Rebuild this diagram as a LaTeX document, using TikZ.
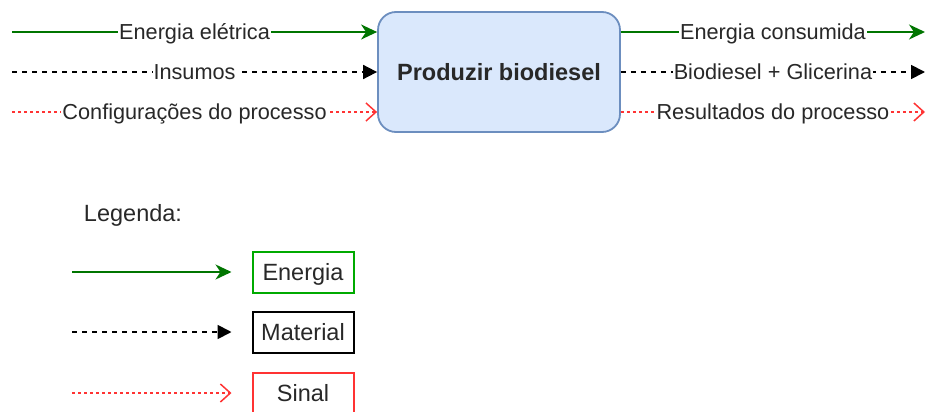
\documentclass[tikz,border=0pt]{standalone}
\usepackage{fontspec}
\setmainfont{Liberation Sans}
\usetikzlibrary{arrows.meta}
\definecolor{verde}{RGB}{0,117,0}
\definecolor{verdecaixa}{RGB}{0,170,0}
\definecolor{vermelho}{RGB}{255,51,51}
\definecolor{azulfundo}{RGB}{218,232,252}
\definecolor{azulborda}{RGB}{108,142,191}
\definecolor{texto}{RGB}{40,40,40}
\tikzset{
  energia/.style={draw=verde, line width=2pt, -{Stealth[length=16pt,width=15pt,inset=5pt]}},
  material/.style={draw=black, line width=1.8pt, dash pattern=on 5pt off 5pt, -{Triangle[length=14pt,width=14pt]}},
  sinal/.style={draw=vermelho, line width=1.2pt, dash pattern=on 3pt off 3pt, -{Straight Barb[length=10pt,width=18pt,line width=1.5pt]}},
  rotulo/.style={fill=white, inner xsep=1pt, inner ysep=0pt, text height=15.6pt, text depth=0pt, text=texto, font=\fontsize{21.7}{24}\selectfont},
  processo/.style={draw=azulborda, fill=azulfundo, line width=1.8pt, rounded corners=18pt, minimum width=242, minimum height=120, text height=16.9pt, text depth=0pt, text=texto, font=\fontsize{23.5}{26}\selectfont\bfseries},
  caixa/.style={line width=2pt, minimum width=101, minimum height=41, text height=16.9pt, text depth=0pt, text=texto, font=\fontsize{23.5}{26}\selectfont}
}

\begin{document}
\begin{tikzpicture}[x=1pt, y=-1pt]
\useasboundingbox (0,0) rectangle (929,412);
% processo
\node[processo] (proc) at (499,72) {Produzir biodiesel};
% entradas
\coordinate (in1) at (12,32);
\coordinate (in2) at (12,72);
\coordinate (in3) at (12,112);
\draw[energia] (in1) -- (proc.west |- in1) node[rotulo, midway] {Energia elétrica};
\draw[material] (in2) -- (proc.west |- in2) node[rotulo, midway] {Insumos};
\draw[sinal] (in3) -- (proc.west |- in3) node[rotulo, midway] {Configurações do processo};
% saidas
\coordinate (out1) at (925,32);
\coordinate (out2) at (925,72);
\coordinate (out3) at (925,112);
\draw[energia] (proc.east |- out1) -- (out1) node[rotulo, midway] {Energia consumida};
\draw[material] (proc.east |- out2) -- (out2) node[rotulo, midway] {Biodiesel + Glicerina};
\draw[sinal] (proc.east |- out3) -- (out3) node[rotulo, midway] {Resultados do processo};
% legenda
\node[text=texto, text height=16.9pt, text depth=0pt, font=\fontsize{23.5}{26}\selectfont] (leg) at (133,213) {Legenda:};
\node[caixa, draw=verdecaixa] (cEnergia) at (303,272) {Energia};
\node[caixa, draw=black] (cMaterial) at (303,332) {Material};
\node[caixa, draw=vermelho] (cSinal) at (303,393) {Sinal};
\coordinate (l1) at (72,272);
\coordinate (l2) at (72,332);
\coordinate (l3) at (72,393);
\draw[energia] (l1) -- ([xshift=-20]cEnergia.west);
\draw[material] (l2) -- ([xshift=-20]cMaterial.west);
\draw[sinal] (l3) -- ([xshift=-20]cSinal.west);
\end{tikzpicture}
\end{document}
